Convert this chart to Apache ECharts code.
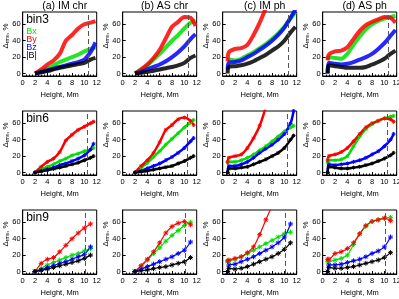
<!DOCTYPE html>
<html><head><meta charset="utf-8">
<script src="https://cdn.jsdelivr.net/npm/echarts@6/dist/echarts.min.js"></script>
<style>html,body{margin:0;padding:0;background:#fff}#c{width:399px;height:299px}</style>
</head><body><div id="c"></div>
<script>
const panelTitles = ['(a) IM chr', '(b) AS chr', '(c) IM ph', '(d) AS ph'];
const binLabels = ['bin3', 'bin6', 'bin9'];
const seriesNames = ['Bx', 'By', 'Bz', '|B|'];
const seriesColors = ['#00e000', '#ff0000', '#0000ff', '#000000'];
const yTicks = [0, 20, 40, 60];
const dashX = [10.65, 10.5, 10.2];

// Row 1 (bin3)
const xChr1 = [2, 3, 4, 5, 6, 7, 8, 9, 10, 11, 11.8];
const xPh1 = [0.8, 1, 2, 3, 4, 5, 6, 7, 8, 9, 10, 11, 11.8];
const a1Bx = [0, 3, 6, 10, 14, 17, 20, 23, 27, 30, 32];
const a1By = [0, 5, 11, 16, 24, 40, 47, 55, 60, 62, 64];
const a1Bz = [0, 2, 4, 6, 8, 10, 12, 14, 17, 26, 38];
const a1B = [0, 1.5, 3, 5, 7, 8.5, 10, 11.5, 13, 17, 19];
const b1Bx = [0, 5, 10, 17, 24, 32, 40, 47, 55, 62, 64];
const b1By = [0, 5, 11, 19, 29, 43, 57, 63, 69, 68, 58];
const b1Bz = [0, 2, 5, 8, 11, 15, 20, 26, 33, 42, 48];
const b1B = [0, 1, 2, 3.5, 5, 6.5, 8, 10, 13, 19, 22];
const c1Bx = [17, 17, 16, 18, 22, 26, 31, 36, 42, 49, 57, 67, 75];
const c1By = [15, 26, 30, 31, 35, 47, 62, 80];
const c1Bz = [5, 13, 14, 16, 20, 24, 29, 34, 40, 47, 56, 68, 78];
const c1B = [0, 8, 9, 10, 12, 15, 19, 23, 28, 33, 40, 50, 57];
const d1Bx = [17, 20, 19, 18, 24, 35, 45, 54, 60, 64, 67, 69, 70];
const d1By = [16, 23, 27, 28, 32, 42, 52, 59, 63, 66, 69, 68, 62];
const d1Bz = [0, 13, 12, 11, 12, 14, 17, 20, 24, 30, 37, 46, 53];
const d1B = [0, 10, 9, 8, 7, 7, 7, 8, 11, 14, 18, 24, 28];

// Row 2 (bin6)
const xChr2 = [2, 3, 4, 5, 6, 7, 8, 9, 10, 11, 11.5];
const xPh2 = [0.8, 1, 2, 3, 4, 5, 6, 7, 8, 9, 10, 11, 11.5];
const a2Bx = [0, 4, 7, 10, 14, 17, 21, 23, 26, 28, 30];
const a2By = [0, 7, 13, 17, 25, 39, 46, 52, 56, 60, 62];
const a2Bz = [0, 2, 4, 6, 9, 11, 14, 17, 21, 28, 35];
const a2B = [0, 1.5, 3, 4.5, 6, 8, 10, 12, 15, 18, 20];
const b2Bx = [0, 6, 12, 19, 26, 34, 41, 48, 55, 61, 64];
const b2By = [0, 8, 15, 24, 37, 52, 58, 65, 67, 63, 58];
const b2Bz = [0, 2, 5, 8, 11, 15, 19, 24, 30, 38, 42];
const b2B = [0, 1, 2, 3.5, 5, 6.5, 8, 11, 14, 18, 20];
const c2Bx = [12, 13, 13, 15, 18, 22, 27, 32, 38, 44, 50, 55, 57];
const c2By = [13, 18, 20, 22, 30, 42, 57, 80];
const c2Bz = [0, 8, 8, 10, 13, 18, 24, 29, 34, 40, 47, 60, 75];
const c2B = [0, 5, 5, 6, 7, 10, 13, 16, 20, 24, 30, 40, 45];
const d2Bx = [12, 15, 15, 16, 20, 32, 44, 53, 59, 63, 66, 68, 69];
const d2By = [15, 20, 22, 25, 30, 38, 47, 55, 60, 63, 66, 65, 62];
const d2Bz = [0, 10, 9, 10, 11, 13, 15, 18, 22, 26, 32, 40, 47];
const d2B = [0, 7, 6, 5, 5, 6, 7, 9, 11, 14, 17, 21, 24];

// Row 3 (bin9)
const xChr3 = [2, 3, 4, 5, 6, 7, 8, 9, 10, 11];
const xPh3 = [0.8, 1, 2, 3, 4, 5, 6, 7, 8, 9, 10, 11];
const a3Bx = [0, 4, 8, 11, 14, 17, 20, 22, 25, 28];
const a3By = [0, 10, 15, 17, 24, 32, 40, 47, 53, 58];
const a3Bz = [0, 2, 5, 7, 10, 12, 15, 18, 21, 30];
const a3B = [0, 1.5, 3, 5, 7, 9, 11, 13, 16, 20];
const b3Bx = [0, 7, 14, 22, 29, 37, 44, 50, 56, 60];
const b3By = [0, 7, 15, 24, 35, 47, 55, 59, 61, 57];
const b3Bz = [0, 3, 6, 9, 12, 15, 18, 22, 26, 36];
const b3B = [0, 1, 2, 3.5, 5, 6, 8, 10, 12, 17];
const c3Bx = [12, 13, 15, 18, 22, 26, 30, 34, 38, 42, 46, 48];
const c3By = [13, 14, 16, 18, 23, 30, 45, 63, 80];
const c3Bz = [0, 8, 9, 12, 15, 18, 22, 26, 30, 35, 42, 58];
const c3B = [0, 4, 3, 4, 6, 9, 12, 15, 18, 22, 27, 35];
const d3Bx = [12, 12, 14, 16, 20, 33, 46, 55, 61, 63, 65, 66];
const d3By = [15, 15, 22, 24, 28, 35, 46, 56, 61, 63, 65, 62];
const d3Bz = [0, 8, 8, 9, 11, 13, 15, 18, 22, 25, 30, 42];
const d3B = [0, 5, 4, 4, 5, 6, 8, 10, 12, 14, 17, 23];

const panels = [
  [[xChr1, [a1Bx, a1By, a1Bz, a1B]], [xChr1, [b1Bx, b1By, b1Bz, b1B]], [xPh1, [c1Bx, c1By, c1Bz, c1B]], [xPh1, [d1Bx, d1By, d1Bz, d1B]]],
  [[xChr2, [a2Bx, a2By, a2Bz, a2B]], [xChr2, [b2Bx, b2By, b2Bz, b2B]], [xPh2, [c2Bx, c2By, c2Bz, c2B]], [xPh2, [d2Bx, d2By, d2Bz, d2B]]],
  [[xChr3, [a3Bx, a3By, a3Bz, a3B]], [xChr3, [b3Bx, b3By, b3Bz, b3B]], [xPh3, [c3Bx, c3By, c3Bz, c3B]], [xPh3, [d3Bx, d3By, d3Bz, d3B]]]
];

const F = '"Liberation Sans", Arial, sans-serif';
const lefts = [22.7, 122.7, 222.7, 322.7], tops = [12, 111, 210], W = 74, H = 64;
const lineW = [4, 2.5, 1.2];
const symSize = [0, 4, 5];
const star = 'path://M5,0L5,10M0,5L10,5M1.5,1.5L8.5,8.5M8.5,1.5L1.5,8.5';
const grid = [], xAxis = [], yAxis = [], series = [], graphic = [];

for (let r = 0; r < 3; r++) {
  for (let c = 0; c < 4; c++) {
    const idx = r * 4 + c;
    grid.push({left: lefts[c], top: tops[r], width: W, height: H, show: true,
      borderColor: '#000', borderWidth: 1, backgroundColor: 'transparent', containLabel: false, outerBoundsMode: 'none'});
    xAxis.push({type: 'value', gridIndex: idx, min: 0, max: 12, interval: 2,
      axisLine: {show: true, onZero: false, lineStyle: {color: '#000', width: 1}},
      axisTick: {show: true, inside: true, length: 3, lineStyle: {color: '#000', width: 1}},
      minorTick: {show: true, splitNumber: 4, length: 1.5, lineStyle: {color: '#000', width: 1}},
      splitLine: {show: false}, minorSplitLine: {show: false},
      axisLabel: {fontFamily: F, fontSize: 7.5, color: '#000', margin: 3},
      name: 'Height, Mm', nameLocation: 'middle', nameGap: 15,
      nameTextStyle: {fontFamily: F, fontSize: 7.5, color: '#000'}});
    yAxis.push({type: 'value', gridIndex: idx, min: -3, max: 75,
      axisLine: {show: true, onZero: false, lineStyle: {color: '#000', width: 1}},
      axisTick: {show: true, inside: true, length: 3, customValues: yTicks, lineStyle: {color: '#000', width: 1}},
      splitLine: {show: false},
      axisLabel: {fontFamily: F, fontSize: 7.5, color: '#000', margin: 2, customValues: yTicks}});
    const [xs, ys] = panels[r][c];
    for (let s = 0; s < 4; s++) {
      const data = [];
      for (let i = 0; i < ys[s].length; i++) data.push([xs[i], ys[s][i]]);
      const ser = {
        type: 'line', name: seriesNames[s], xAxisIndex: idx, yAxisIndex: idx, data: data,
        smooth: 0.3, clip: true, silent: true, animation: false,
        symbol: symSize[r] ? star : 'none', symbolSize: symSize[r], showSymbol: symSize[r] > 0,
        lineStyle: {color: seriesColors[s], width: lineW[r], opacity: r === 0 ? 0.85 : 1},
        itemStyle: {color: seriesColors[s], borderColor: seriesColors[s], borderWidth: 1}
      };
      if (s === 3) {
        ser.markLine = {silent: true, symbol: ['none', 'none'], label: {show: false}, animation: false,
          lineStyle: {type: [5, 3], color: '#555', width: 1}, data: [{xAxis: dashX[r]}]};
      }
      series.push(ser);
    }
    graphic.push({type: 'text', x: lefts[c] - 17, y: tops[r] + 24, rotation: Math.PI / 2,
      style: {text: '{a|Δ}{s|rms}{a|, %}', align: 'center', verticalAlign: 'middle',
        rich: {a: {fontFamily: F, fontSize: 8, fill: '#000', color: '#000'},
               s: {fontFamily: F, fontSize: 5, fill: '#000', color: '#000', verticalAlign: 'bottom', padding: [3, 0, 0, 0]}}}});
  }
  graphic.push({type: 'text', x: lefts[0] + 3.5, y: tops[r] + 8,
    style: {text: binLabels[r], fontFamily: F, fontSize: 12, fill: '#000', verticalAlign: 'middle'}});
}
for (let c = 0; c < 4; c++) {
  graphic.push({type: 'text', x: lefts[c] + W / 2 + 5, y: 6,
    style: {text: panelTitles[c], fontFamily: F, fontSize: 10.5, fill: '#000', align: 'center', verticalAlign: 'middle'}});
}
const legendY = [32, 40, 48, 56];
for (let s = 0; s < 4; s++) {
  graphic.push({type: 'text', x: lefts[0] + 3.5, y: legendY[s],
    style: {text: seriesNames[s], fontFamily: F, fontSize: 9, fill: seriesColors[s], verticalAlign: 'middle'}});
}

const chart = echarts.init(document.getElementById('c'), null, {renderer: 'canvas'});
chart.setOption({animation: false, backgroundColor: '#fff', grid, xAxis, yAxis, series, graphic});
</script>
</body></html>
